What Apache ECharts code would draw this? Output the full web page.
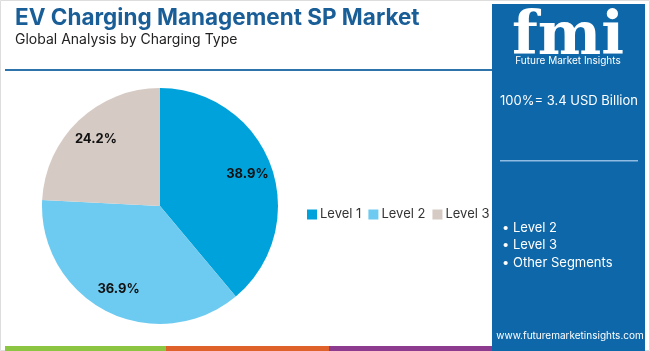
<!DOCTYPE html>
<html>
<head>
<meta charset="utf-8">
<script src="https://cdn.jsdelivr.net/npm/echarts@6/dist/echarts.min.js"></script>
<style>
  html, body { margin: 0; padding: 0; background: #fff; }
  #chart { width: 650px; height: 351px; }
</style>
</head>
<body>
<div id="chart"></div>
<script>
// EV Charging Management SP Market — share by charging type
const CATEGORIES = ['Level 1', 'Level 2', 'Level 3'];
const SHARES = [38.9, 36.9, 24.2];
const COLORS = ['#00a2db', '#6dcbf1', '#d6cac4'];
const TOTAL_TEXT = '100%= 3.4 USD Billion';
const SEGMENTS = ['Level 2', 'Level 3', 'Other Segments'];

const PANEL = '#0e67a8';
const FONT = 'Inter, "Open Sans", sans-serif';

const chart = echarts.init(document.getElementById('chart'));

const pieData = CATEGORIES.map((name, i) => ({ name, value: SHARES[i], itemStyle: { color: COLORS[i] } }));

chart.setOption({
  backgroundColor: '#fff',
  animation: false,
  title: {
    text: 'EV Charging Management SP Market',
    subtext: 'Global Analysis by Charging Type',
    left: 10, top: 2,
    itemGap: 3,
    textStyle: { color: '#1a5e98', fontSize: 22.5, fontWeight: 'bold', fontFamily: FONT },
    subtextStyle: { color: '#222', fontSize: 14, fontFamily: FONT },
  },
  legend: {
    data: CATEGORIES,
    left: 302, top: 203,
    itemWidth: 10, itemHeight: 10, itemGap: 7,
    icon: 'rect',
    textStyle: { color: '#333', fontSize: 13, fontFamily: FONT, padding: [0, 0, 0, -2] },
  },
  series: [
    {
      type: 'pie',
      center: [160, 206],
      radius: [0, 118],
      startAngle: 90,
      clockwise: true,
      label: { show: false },
      labelLine: { show: false },
      data: pieData,
    },
    {
      // transparent ring so labels sit at ~3/4 of the radius
      type: 'pie',
      silent: true,
      center: [160, 206],
      radius: [62, 118],
      startAngle: 90,
      clockwise: true,
      itemStyle: { color: 'rgba(0,0,0,0)' },
      label: {
        show: true, position: 'inside',
        formatter: p => p.value.toFixed(1) + '%',
        color: '#111', fontSize: 13, fontWeight: 'bold', fontFamily: FONT,
      },
      labelLine: { show: false },
      data: SHARES.map((v, i) => ({ name: 'lbl' + i, value: v })),
    },
  ],
  graphic: [
    { type: 'rect', shape: { x: 0.5, y: 0.5, width: 649, height: 350 }, style: { fill: 'none', stroke: '#ddd', lineWidth: 1 } },
    { type: 'rect', shape: { x: 5, y: 69, width: 487, height: 2 }, style: { fill: '#2f73ab' } },
    { type: 'rect', shape: { x: 5, y: 346, width: 161, height: 5 }, style: { fill: '#8cc541' } },
    { type: 'rect', shape: { x: 166, y: 346, width: 163, height: 5 }, style: { fill: '#e0622b' } },
    { type: 'rect', shape: { x: 329, y: 346, width: 163, height: 5 }, style: { fill: '#8c3b8f' } },
    { type: 'rect', shape: { x: 492, y: 4, width: 153, height: 347 }, style: { fill: PANEL } },
    { type: 'text', style: { text: 'fmi', x: 568, y: 8, textAlign: 'center', fill: '#fff', font: 'bold 60px "DejaVu Serif", serif' } },
    { type: 'text', style: { text: 'Future Market Insights', x: 568, y: 56, textAlign: 'center', fill: '#fff', font: '10px ' + FONT } },
    { type: 'text', style: { text: TOTAL_TEXT, x: 569, y: 95, textAlign: 'center', fill: '#fff', font: '13px ' + FONT } },
    { type: 'rect', shape: { x: 500, y: 160, width: 138, height: 1.5 }, style: { fill: '#8fbce2' } },
    {
      type: 'text',
      style: {
        text: SEGMENTS.map(s => '• ' + s).join('\n'),
        x: 502, y: 219, lineHeight: 17.5, fill: '#fff', font: '13px ' + FONT,
      },
    },
    { type: 'text', style: { text: 'www.futuremarketinsights.com', x: 570, y: 331, textAlign: 'center', fill: '#fff', font: '10px ' + FONT } },
  ],
});
</script>
</body>
</html>
